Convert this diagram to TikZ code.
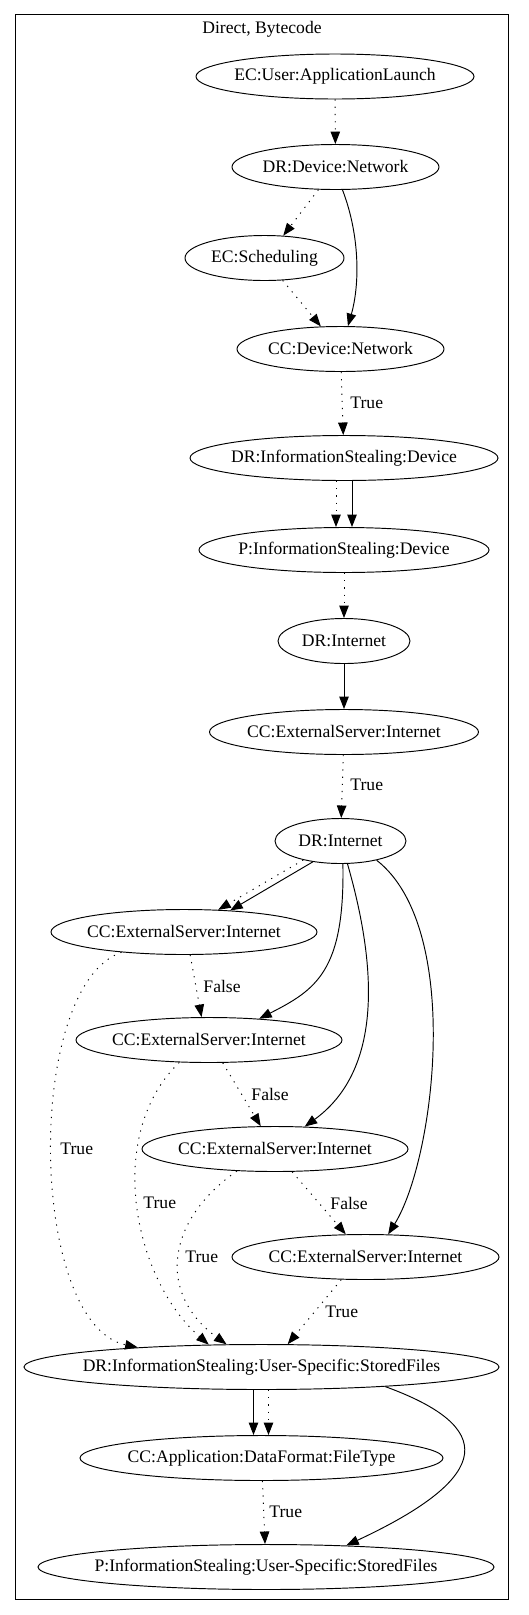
\documentclass[tikz,border=0pt]{standalone}
\usepackage{fontspec}
\setmainfont{Liberation Serif}
\usetikzlibrary{shapes.geometric,arrows.meta}
\tikzset{
    gvnode/.style={draw, ellipse, inner sep=0pt, minimum height=45pt},
    gvedge/.style={-{Triangle[length=12.5pt,width=9.5pt]}},
    dotedge/.style={gvedge, dash pattern=on 1.2pt off 6pt},
    gvlbl/.style={anchor=west, inner sep=0pt}
}
\newcommand{\gvtext}[1]{\makebox[0pt]{#1}}
\begin{document}
\begin{tikzpicture}[x=1pt, y=1pt, line width=0.95pt, font=\fontsize{17.6pt}{20pt}\selectfont]
        \useasboundingbox (0,0) rectangle (528,-1615);
        \draw (15,-14) rectangle (508,-1599);
        \node (title) at (262,-29) {Direct, Bytecode};
        \node[gvnode, minimum width=278pt] (ecuser) at (335,-76.5) {\gvtext{EC:User:ApplicationLaunch}};
        \node[gvnode, minimum width=207pt] (drdev) at (335.5,-167) {\gvtext{DR:Device:Network}};
        \node[gvnode, minimum width=159pt] (ecsched) at (264.5,-258) {\gvtext{EC:Scheduling}};
        \node[gvnode, minimum width=207pt] (ccdev) at (340.5,-349) {\gvtext{CC:Device:Network}};
        \node[gvnode, minimum width=308pt] (drisdev) at (344,-458) {\gvtext{DR:InformationStealing:Device}};
        \node[gvnode, minimum width=290pt] (pisdev) at (344,-550) {\gvtext{P:InformationStealing:Device}};
        \node[gvnode, minimum width=132pt] (drnet) at (344,-641) {\gvtext{DR:Internet}};
        \node[gvnode, minimum width=269pt] (ccnet) at (344,-732) {\gvtext{CC:ExternalServer:Internet}};
        \node[gvnode, minimum width=131pt] (drnetb) at (340.5,-841) {\gvtext{DR:Internet}};
        \node[gvnode, minimum width=266pt] (ccneta) at (184,-932) {\gvtext{CC:ExternalServer:Internet}};
        \node[gvnode, minimum width=266pt] (ccnetb) at (209,-1040) {\gvtext{CC:ExternalServer:Internet}};
        \node[gvnode, minimum width=266pt] (ccnetc) at (275,-1149) {\gvtext{CC:ExternalServer:Internet}};
        \node[gvnode, minimum width=267pt] (ccnetd) at (365.5,-1257) {\gvtext{CC:ExternalServer:Internet}};
        \node[gvnode, minimum width=475pt] (dris) at (261.5,-1367) {\gvtext{DR:InformationStealing:User-Specific:StoredFiles}};
        \node[gvnode, minimum width=363pt] (ccapp) at (261.5,-1458) {\gvtext{CC:Application:DataFormat:FileType}};
        \node[gvnode, minimum width=456pt] (pis) at (266,-1567) {\gvtext{P:InformationStealing:User-Specific:StoredFiles}};
        \draw[dotedge] (ecuser) -- (drdev);
        \draw[dotedge] (drdev.233) -- (ecsched.50);
        \draw[gvedge] (drdev.287) to[out=-69, in=74, out distance=49pt, in distance=43pt] (ccdev.72);
        \draw[dotedge] (ecsched.309) -- (ccdev.131);
        \draw[dotedge] (ccdev) -- (drisdev);
        \node[gvlbl] (tccdev) at (350,-403) {True};
        \draw[dotedge] ([xshift=-8pt]drisdev.south) -- ([xshift=-8pt]pisdev.north);
        \draw[gvedge] ([xshift=8pt]drisdev.south) -- ([xshift=8pt]pisdev.north);
        \draw[dotedge] (pisdev) -- (drnet);
        \draw[gvedge] (drnet) -- (ccnet);
        \draw[dotedge] (ccnet) -- (drnetb);
        \node[gvlbl] (tccnet) at (350,-785) {True};
        \draw[dotedge] (drnetb.207) -- (ccneta.33);
        \draw[gvedge] (drnetb.217) -- (ccneta.25);
        \draw[gvedge] (drnetb.276) to[out=-89, in=27, out distance=107pt, in distance=64pt] (ccnetb.23);
        \draw[gvedge] (drnetb.287) to[out=-74, in=36, out distance=85pt, in distance=106pt] (ccnetc.37);
        \draw[gvedge] (drnetb.332) to[out=-38, in=58, out distance=110pt, in distance=88pt] (ccnetd.45);
        \draw[dotedge] (ccneta.285) -- (ccnetb.108);
        \node[gvlbl] (fa) at (203,-986) {False};
        \draw[dotedge] (ccnetb.301) -- (ccnetc.122);
        \node[gvlbl] (fb) at (251,-1094) {False};
        \draw[dotedge] (ccnetc.307) -- (ccnetd.131);
        \node[gvlbl] (fc) at (330,-1203) {False};
        \draw[dotedge] (ccneta.198) to[out=199, in=168, out distance=103pt, in distance=112pt] (dris.171);
        \node[gvlbl] (ta) at (60,-1149) {True};
        \draw[dotedge] (ccnetb.217) to[out=224, in=139, out distance=105pt, in distance=99pt] (dris.157);
        \node[gvlbl] (tb) at (143,-1203) {True};
        \draw[dotedge] (ccnetc.210) to[out=215, in=144, out distance=89pt, in distance=84pt] (dris.147);
        \node[gvlbl] (tc) at (185,-1257) {True};
        \draw[dotedge] (ccnetd.223) -- (dris.41);
        \node[gvlbl] (td) at (325,-1312) {True};
        \draw[gvedge] ([xshift=-8pt]dris.south) -- ([xshift=-8pt]ccapp.north);
        \draw[dotedge] ([xshift=7pt]dris.south) -- ([xshift=7pt]ccapp.north);
        \draw[gvedge] (dris.351) to[out=-20, in=25, out distance=117pt, in distance=165pt] (pis.15);
        \draw[dotedge] (ccapp) -- (pis);
        \node[gvlbl] (tapp) at (269,-1512) {True};
\end{tikzpicture}
\end{document}
